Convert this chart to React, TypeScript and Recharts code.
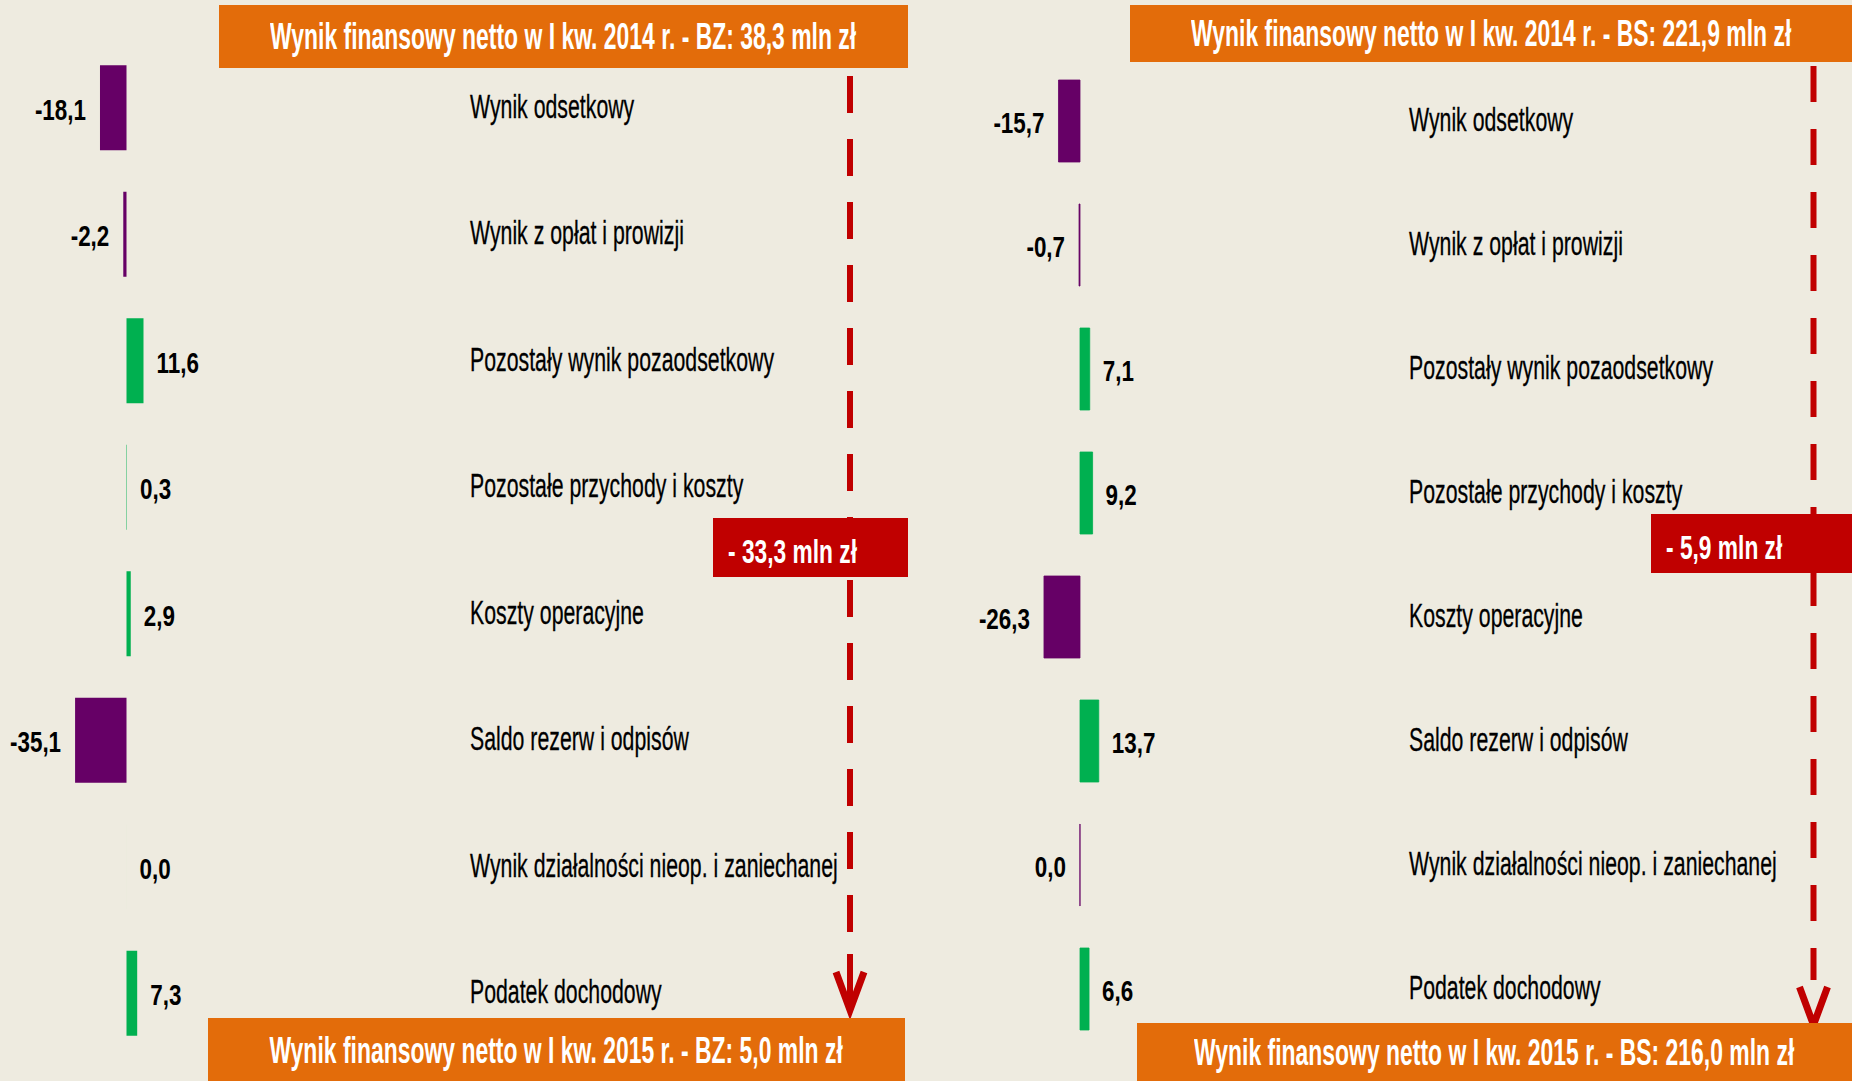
import { BarChart, Bar, XAxis, YAxis, Cell, LabelList } from 'recharts';

const categories = [
  'Wynik odsetkowy',
  'Wynik z opłat i prowizji',
  'Pozostały wynik pozaodsetkowy',
  'Pozostałe przychody i koszty',
  'Koszty operacyjne',
  'Saldo rezerw i odpisów',
  'Wynik działalności nieop. i zaniechanej',
  'Podatek dochodowy',
];
const bzValues = [-18.1, -2.2, 11.6, 0.3, 2.9, -35.1, 0.0, 7.3];
const bsValues = [-15.7, -0.7, 7.1, 9.2, -26.3, 13.7, -0.04, 6.6];

const bzTitles = [
  'Wynik finansowy netto w I kw. 2014 r. - BZ: 38,3 mln zł',
  'Wynik finansowy netto w I kw. 2015 r. - BZ: 5,0 mln zł',
  '- 33,3 mln zł',
];
const bsTitles = [
  'Wynik finansowy netto w I kw. 2014 r. - BS: 221,9 mln zł',
  'Wynik finansowy netto w I kw. 2015 r. - BS: 216,0 mln zł',
  '- 5,9 mln zł',
];

const BG = '#EEEBE0';
const ORANGE = '#E36C0A';
const PURPLE = '#660066';
const GREEN = '#00B050';
const RED = '#C00000';
const FONT = "'Liberation Sans', Arial, sans-serif";

const fmt = (v: number) => (Math.round(v * 10) / 10).toFixed(1).replace('.', ',');

// numbers next to the bars
function ValueLabel(props: any) {
  const { x, y, width, height, value } = props;
  const left = Math.min(x, x + width);
  const right = Math.max(x, x + width);
  const neg = value < 0;
  const tx = neg ? left - 14 : right + 13;
  return (
    <text
      transform={`translate(${tx},${y + height / 2 + 12}) scale(0.76,1)`}
      textAnchor={neg ? 'end' : 'start'}
      fontFamily={FONT}
      fontWeight="bold"
      fontSize={29.5}
      fill="#000"
    >
      {fmt(value)}
    </text>
  );
}

// category names, all starting at one x
function CatLabel(props: any) {
  const { y, height, value, labelX } = props;
  return (
    <text
      transform={`translate(${labelX},${y + height / 2 + 10}) scale(0.655,1)`}
      fontFamily={FONT}
      fontSize={32.5}
      fill="#000"
      stroke="#000"
      strokeWidth={0.3}
    >
      {value}
    </text>
  );
}

interface PanelProps {
  values: number[];
  titles: string[];
  left: number;
  zero: number;
  scale: number;
  bandTop: number;
  bandBottom: number;
  barSize: number;
  labelX: number;
  lineX: number;
  lineTop: number;
  arrowTip: number;
  shaft: boolean;
  dash: string;
  edge: number;
  topBox: number[];
  bottomBox: number[];
  redBox: number[];
}

function Panel(p: PanelProps) {
  const W = 926;
  const H = 1081;
  const data = categories.map((name, i) => ({ name, value: p.values[i] }));
  const domain = [-p.zero / p.scale, (W - p.zero) / p.scale];

  const box = (b: number[], bg: string) => ({
    position: 'absolute' as const,
    left: b[0],
    top: b[1],
    width: b[2],
    height: b[3],
    background: bg,
    color: '#fff',
    fontFamily: FONT,
    fontWeight: 'bold' as const,
    display: 'flex',
    alignItems: 'center',
    whiteSpace: 'nowrap' as const,
    boxSizing: 'border-box' as const,
  });

  return (
    <div style={{ position: 'absolute', left: p.left, top: 0, width: W, height: H }}>
      <BarChart
        width={W}
        height={H}
        data={data}
        layout="vertical"
        margin={{ top: p.bandTop, bottom: H - p.bandBottom, left: 0, right: 0 }}
      >
        <XAxis type="number" domain={domain} hide allowDataOverflow />
        <YAxis type="category" dataKey="name" hide />
        <Bar dataKey="value" barSize={p.barSize} minPointSize={0.01} isAnimationActive={false}>
          {data.map((d, i) => {
            const c = d.value < 0 ? PURPLE : GREEN;
            return <Cell key={i} fill={c} stroke={c} strokeWidth={p.edge} />;
          })}
          <LabelList dataKey="value" content={<ValueLabel />} />
          <LabelList dataKey="name" content={<CatLabel labelX={p.labelX} />} />
        </Bar>
      </BarChart>
      <svg
        width={W}
        height={H}
        style={{ position: 'absolute', left: 0, top: 0, pointerEvents: 'none' }}
      >
        <line
          x1={p.lineX}
          x2={p.lineX}
          y1={p.lineTop}
          y2={p.arrowTip - 45}
          stroke={RED}
          strokeWidth={6}
          strokeDasharray={p.dash}
        />
        {p.shaft && (
          <line
            x1={p.lineX}
            x2={p.lineX}
            y1={p.arrowTip - 56}
            y2={p.arrowTip - 4}
            stroke={RED}
            strokeWidth={6}
          />
        )}
        <polyline
          points={`${p.lineX - 14},${p.arrowTip - 38} ${p.lineX},${p.arrowTip} ${p.lineX + 14},${p.arrowTip - 38}`}
          fill="none"
          stroke={RED}
          strokeWidth={7}
        />
      </svg>
      <div style={{ ...box(p.topBox, ORANGE), justifyContent: 'center', fontSize: 36 }}>
        <span style={{ display: 'inline-block', transform: 'scaleX(0.637)' }}>{p.titles[0]}</span>
      </div>
      <div style={{ ...box(p.bottomBox, ORANGE), justifyContent: 'center', fontSize: 36 }}>
        <span style={{ display: 'inline-block', transform: 'scaleX(0.637)' }}>{p.titles[1]}</span>
      </div>
      <div
        style={{
          ...box(p.redBox, RED),
          justifyContent: 'flex-start',
          fontSize: 32.5,
          paddingLeft: 15,
          paddingTop: 10,
        }}
      >
        <span style={{ display: 'inline-block', transform: 'scaleX(0.7)', transformOrigin: 'left center' }}>
          {p.titles[2]}
        </span>
      </div>
    </div>
  );
}

export default function App() {
  return (
    <div
      style={{
        position: 'absolute',
        left: 0,
        top: 0,
        width: 1852,
        height: 1081,
        background: BG,
        overflow: 'hidden',
      }}
    >
      <Panel
        values={bzValues}
        titles={bzTitles}
        left={0}
        zero={126.5}
        scale={1.465}
        bandTop={44.25}
        bandBottom={1056.25}
        barSize={85}
        labelX={470}
        lineX={850}
        lineTop={76}
        arrowTip={1010}
        shaft={true}
        dash="37 26"
        edge={0}
        topBox={[219, 5, 689, 63]}
        bottomBox={[208, 1018, 697, 66]}
        redBox={[713, 518, 195, 59]}
      />
      <Panel
        values={bsValues}
        titles={bsTitles}
        left={926}
        zero={154}
        scale={1.37}
        bandTop={59}
        bandBottom={1051}
        barSize={82}
        labelX={483}
        lineX={887.5}
        lineTop={66}
        arrowTip={1025}
        shaft={false}
        dash="36 27"
        edge={0.8}
        topBox={[204, 5, 722, 57]}
        bottomBox={[211, 1023, 715, 60]}
        redBox={[725, 514, 201, 59]}
      />
    </div>
  );
}
